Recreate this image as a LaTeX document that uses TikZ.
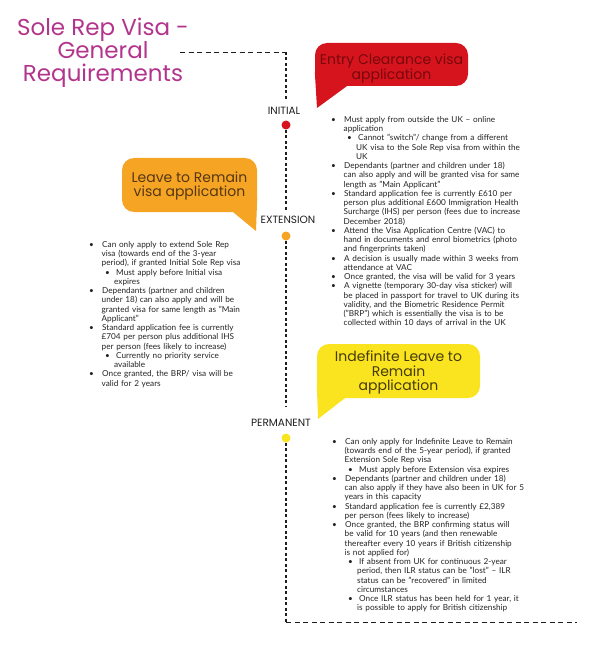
\documentclass[tikz,border=0pt]{standalone}
\usepackage{fontspec}
\setmainfont{Lato}
\newfontfamily\headfont{Poppins}
\usetikzlibrary{positioning,calc}

\definecolor{titlepurple}{RGB}{178,52,140}
\definecolor{visared}{RGB}{214,20,30}
\definecolor{visaredtext}{RGB}{120,8,12}
\definecolor{visaorange}{RGB}{246,164,36}
\definecolor{visaorangetext}{RGB}{85,55,20}
\definecolor{visayellow}{RGB}{250,228,32}
\definecolor{visayellowtext}{RGB}{70,60,10}
\definecolor{bodygray}{RGB}{35,35,35}
\definecolor{lineblack}{RGB}{30,30,30}

% bullet lines
\newcommand{\bul}{\par\noindent\hangindent=12.5pt\hangafter=1\makebox[13pt][l]{\textbullet}}
\newcommand{\subbul}{\par\noindent\hangindent=25pt\hangafter=1\hspace*{16pt}\makebox[11pt][l]{\textbullet}}

\tikzset{
  bubble/.style={rectangle, rounded corners=12pt, inner sep=0pt},
  bubbletext/.style={
    inner sep=0pt, align=center,
    font=\headfont\fontsize{14}{14.5}\selectfont
  },
  stage/.style={font=\headfont\fontsize{10.5}{12}\selectfont, text=lineblack},
  stagedot/.style={circle, inner sep=0pt, minimum size=9pt},
  notes/.style={
    anchor=north west, inner sep=0pt, text width=260pt,
    font=\fontsize{8.2}{9.25}\selectfont, text=bodygray
  },
  timeline/.style={dash pattern=on 3pt off 2.5pt, line width=1.3pt, color=lineblack},
  frameline/.style={dash pattern=on 5pt off 3.5pt, line width=0.8pt, color=lineblack}
}

\begin{document}
\begin{tikzpicture}[x=1pt, y=1pt]
  \useasboundingbox (0,0) rectangle (600,-660);

  % Title
  \node[align=center, font=\headfont\fontsize{23}{23}\selectfont, text=titlepurple]
    (title) at (103,-53) {Sole Rep Visa -\\General\\Requirements};

  % Stages
  \node[stage] (initial) at (284,-111) {INITIAL};
  \node[stagedot, fill=visared] (initialdot) at (286,-125) {};
  \node[stage] (extension) at (288,-220) {EXTENSION};
  \node[stagedot, fill=visaorange] (extensiondot) at (286,-236) {};
  \node[stage] (permanent) at (281,-423) {PERMANENT};
  \node[stagedot, fill=visayellow] (permanentdot) at (286,-438) {};

  % Timeline
  \coordinate (titlehook) at (180,-52);
  \coordinate (titlebend) at (286,-52);
  \coordinate (endbend) at (286,-622);
  \coordinate (endhook) at (577,-622);
  \draw[frameline] (titlehook) -- (titlebend);
  \draw[timeline] (titlebend) -- ([yshift=4pt]initial.north -| initialdot);
  \draw[timeline] (initialdot.south) -- ([yshift=2pt]extension.north -| initialdot);
  \draw[timeline] (extensiondot.south) -- ([yshift=10pt]permanent.north -| extensiondot);
  \draw[timeline] (permanentdot.south) -- (endbend);
  \draw[frameline] (endbend) -- (endhook);

  % Callouts
  \node[bubble, fill=visared, minimum width=153pt, minimum height=43pt]
    (entry) at (391.5,-64.5) {};
  \node[bubbletext, text=visaredtext] (entrytext) at ([yshift=-4pt]entry.center)
    {Entry Clearance visa\\application};
  \coordinate (entrytip) at (317,-108);
  \fill[visared] ([yshift=14pt]entry.south west) -- (entrytip)
    -- ([xshift=32pt]entry.south west) -- cycle;

  \node[bubble, fill=visaorange, minimum width=135pt, minimum height=54pt]
    (remain) at (189.5,-185) {};
  \node[bubbletext, text=visaorangetext] (remaintext) at ([yshift=-1pt]remain.center)
    {Leave to Remain\\visa application};
  \coordinate (remaintip) at (256,-231);
  \fill[visaorange] ([yshift=14pt]remain.south east) -- (remaintip)
    -- ([xshift=-24pt]remain.south east) -- cycle;

  \node[bubble, fill=visayellow, minimum width=163pt, minimum height=54pt]
    (ilr) at (398.5,-371) {};
  \node[bubbletext, text=visayellowtext] (ilrtext) at ([yshift=-1.5pt]ilr.center)
    {Indefinite Leave to\\Remain\\application};
  \coordinate (ilrtip) at (318,-419);
  \fill[visayellow] ([yshift=14pt]ilr.south west) -- (ilrtip)
    -- ([xshift=28pt]ilr.south west) -- cycle;

  % Requirements
  \node[notes] (entrynotes) at (331,-113) {%
    \bul Must apply from outside the UK – online\newline application
    \subbul Cannot "switch"/ change from a different\newline UK visa to the Sole Rep visa from within the\newline UK
    \bul Dependants (partner and children under 18)\newline can also apply and will be granted visa for same\newline length as "Main Applicant"
    \bul Standard application fee is currently £610 per\newline person plus additional £600 Immigration Health\newline Surcharge (IHS) per person (fees due to increase\newline December 2018)
    \bul Attend the Visa Application Centre (VAC) to\newline hand in documents and enrol biometrics (photo\newline and fingerprints taken)
    \bul A decision is usually made within 3 weeks from\newline attendance at VAC
    \bul Once granted, the visa will be valid for 3 years
    \bul A vignette (temporary 30-day visa sticker) will\newline be placed in passport for travel to UK during its\newline validity, and the Biometric Residence Permit\newline ("BRP") which is essentially the visa is to be\newline collected within 10 days of arrival in the UK\par};

  \node[notes] (remainnotes) at (89,-238) {%
    \bul Can only apply to extend Sole Rep\newline visa (towards end of the 3-year\newline period), if granted Initial Sole Rep visa
    \subbul Must apply before Initial visa\newline expires
    \bul Dependants (partner and children\newline under 18) can also apply and will be\newline granted visa for same length as "Main\newline Applicant"
    \bul Standard application fee is currently\newline £704 per person plus additional IHS\newline per person (fees likely to increase)
    \subbul Currently no priority service\newline available
    \bul Once granted, the BRP/ visa will be\newline valid for 2 years\par};

  \node[notes] (ilrnotes) at (332,-435) {%
    \bul Can only apply for Indefinite Leave to Remain\newline (towards end of the 5-year period), if granted\newline Extension Sole Rep visa
    \subbul Must apply before Extension visa expires
    \bul Dependants (partner and children under 18)\newline can also apply if they have also been in UK for 5\newline years in this capacity
    \bul Standard application fee is currently £2,389\newline per person (fees likely to increase)
    \bul Once granted, the BRP confirming status will\newline be valid for 10 years (and then renewable\newline thereafter every 10 years if British citizenship\newline is not applied for)
    \subbul If absent from UK for continuous 2-year\newline period, then ILR status can be "lost" – ILR\newline status can be "recovered" in limited\newline circumstances
    \subbul Once ILR status has been held for 1 year, it\newline is possible to apply for British citizenship\par};
\end{tikzpicture}
\end{document}
